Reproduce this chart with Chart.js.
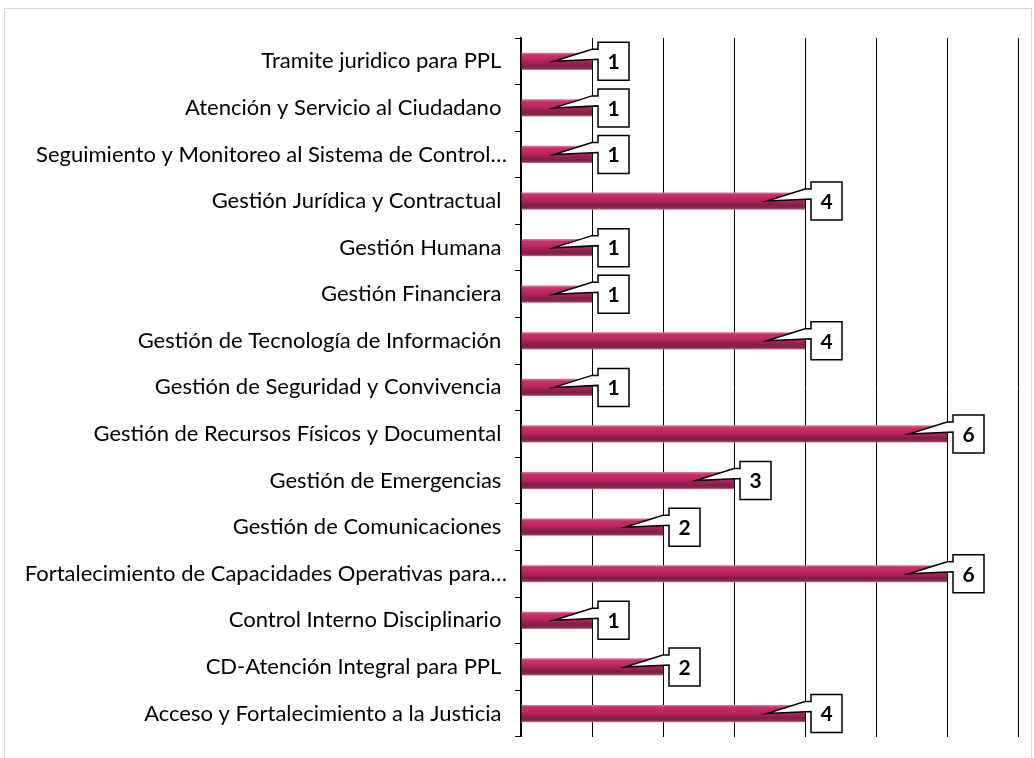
<!DOCTYPE html>
<html>
<head>
<meta charset="utf-8">
<script src="https://cdn.jsdelivr.net/npm/chart.js@4"></script>
<style>
  body { margin: 0; background: #fff; }
  #frame { position: absolute; left: 4px; top: 8px; width: 1026px; height: 760px; border: 1px solid #d9d9d9; }
  #wrap { position: absolute; left: 0; top: 0; width: 1034px; height: 758px; }
</style>
</head>
<body>
<div id="frame"></div>
<div id="wrap"><canvas id="chart"></canvas></div>
<script>
// categories (top to bottom as shown)
const processes = [
  'Tramite juridico para PPL ',
  'Atención y Servicio al Ciudadano ',
  'Seguimiento y Monitoreo al Sistema de Control…',
  'Gestión Jurídica y Contractual ',
  'Gestión Humana ',
  'Gestión Financiera ',
  'Gestión de Tecnología de Información ',
  'Gestión de Seguridad y Convivencia ',
  'Gestión de Recursos Físicos y Documental ',
  'Gestión de Emergencias ',
  'Gestión de Comunicaciones ',
  'Fortalecimiento de Capacidades Operativas para…',
  'Control Interno Disciplinario ',
  'CD-Atención Integral para PPL ',
  'Acceso y Fortalecimiento a la Justicia '
];
const counts = [1, 1, 1, 4, 1, 1, 4, 1, 6, 3, 2, 6, 1, 2, 4];
const axisMax = 7;

const FONT = 'Lato, "Open Sans", sans-serif';

// shaded bar fill, one gradient per bar
function barFill(ctx) {
  const chart = ctx.chart;
  const y = chart.scales.y;
  if (!y || ctx.dataIndex === undefined) return '#b8235c';
  const cy = y.getPixelForValue(ctx.dataIndex);
  if (!isFinite(cy)) return '#b8235c';
  const g = chart.ctx.createLinearGradient(0, cy - 9, 0, cy + 9);
  g.addColorStop(0, '#e48aab');
  g.addColorStop(0.15, '#c8326a');
  g.addColorStop(0.45, '#bb245e');
  g.addColorStop(0.75, '#7e1f47');
  g.addColorStop(0.9, '#8e2a52');
  g.addColorStop(1, '#e3a3ba');
  return g;
}

// callout labels with the value
const calloutPlugin = {
  id: 'callouts',
  afterDatasetsDraw(chart) {
    const c = chart.ctx;
    const meta = chart.getDatasetMeta(0);
    c.save();
    meta.data.forEach((bar, i) => {
      const end = bar.x;
      const cy = bar.y;
      const x0 = end + 6, x1 = x0 + 31;
      const top = cy - 19, bot = cy + 19;
      const tipX = end - 38, tipY = cy;
      c.beginPath();
      c.moveTo(x0, top);
      c.lineTo(x1, top);
      c.lineTo(x1, bot);
      c.lineTo(x0, bot);
      c.lineTo(x0, cy - 2);
      c.lineTo(tipX, tipY);
      c.lineTo(x0 - 6, cy - 12);
      c.lineTo(x0, cy - 12);
      c.closePath();
      c.fillStyle = '#fff';
      c.fill();
      c.lineWidth = 1.5;
      c.strokeStyle = '#000';
      c.stroke();
      c.fillStyle = '#000';
      c.font = 'bold 21px ' + FONT;
      c.textAlign = 'center';
      c.textBaseline = 'middle';
      c.fillText(String(counts[i]), (x0 + x1) / 2, (top + bot) / 2 + 1);
    });
    c.restore();
  }
};

new Chart(document.getElementById('chart'), {
  type: 'bar',
  data: {
    labels: processes,
    datasets: [{
      data: counts,
      backgroundColor: barFill,
      borderWidth: 0,
      barPercentage: 1,
      categoryPercentage: 0.37
    }]
  },
  options: {
    indexAxis: 'y',
    responsive: true,
    maintainAspectRatio: false,
    animation: false,
    layout: { padding: { top: 38, bottom: 21, right: 16, left: 0 } },
    plugins: {
      legend: { display: false },
      tooltip: { enabled: false }
    },
    scales: {
      x: {
        min: 0,
        max: axisMax,
        ticks: { display: false, stepSize: 1 },
        grid: { color: '#000', lineWidth: 1, drawTicks: false },
        border: { display: false }
      },
      y: {
        afterFit(scale) { scale.width = 521; },
        ticks: { color: '#000', font: { family: FONT, size: 22 }, padding: 8, autoSkip: false },
        grid: { drawOnChartArea: false, color: '#000', tickLength: 6, offset: true },
        border: { display: true, color: '#000', width: 1.5 }
      }
    }
  },
  plugins: [calloutPlugin]
});
</script>
</body>
</html>
